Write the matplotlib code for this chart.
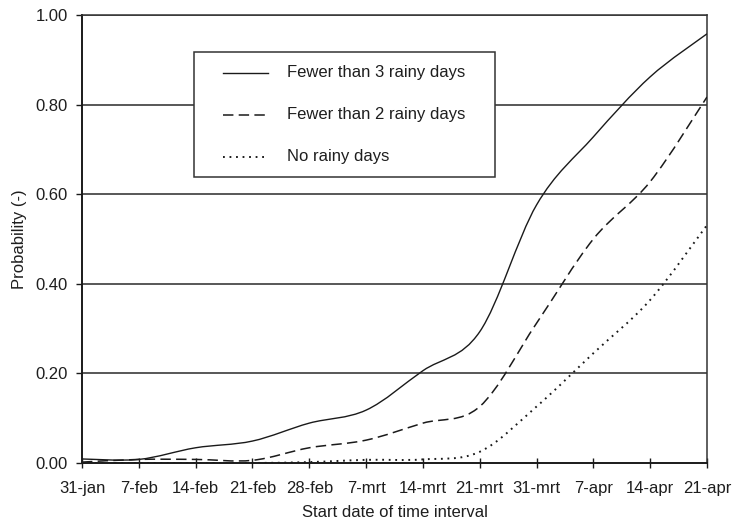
import matplotlib
matplotlib.use("Agg")
import matplotlib.pyplot as plt
from matplotlib.path import Path
from matplotlib.patches import PathPatch, Rectangle
from matplotlib.lines import Line2D
import numpy as np

plt.rcParams['font.family'] = ['Liberation Sans', 'DejaVu Sans']
plt.rcParams['lines.scale_dashes'] = False

dates = ["31-jan", "7-feb", "14-feb", "21-feb", "28-feb", "7-mrt",
         "14-mrt", "21-mrt", "31-mrt", "7-apr", "14-apr", "21-apr"]
fewer_than_3 = [0.009, 0.008, 0.034, 0.049, 0.089, 0.118,
                0.206, 0.293, 0.576, 0.728, 0.862, 0.958]
fewer_than_2 = [0.002, 0.008, 0.008, 0.006, 0.034, 0.051,
                0.089, 0.126, 0.312, 0.500, 0.628, 0.817]
no_rainy = [0.0, 0.0, 0.0, 0.0, 0.002, 0.007,
            0.008, 0.025, 0.126, 0.245, 0.364, 0.531]
series_labels = ["Fewer than 3 rainy days", "Fewer than 2 rainy days", "No rainy days"]
y_ticks = [0.0, 0.2, 0.4, 0.6, 0.8, 1.0]

INK = "#1a1a1a"
TXT = "#1e1e1e"
FS = 12


def smooth_path(xs, ys):
    """Smoothed polyline through the points, built from cubic Bezier segments."""
    pts = np.column_stack([xs, ys]).astype(float)
    n = len(pts)
    verts = [pts[0]]
    codes = [Path.MOVETO]
    for i in range(n - 1):
        p0 = pts[max(i - 1, 0)]
        p1 = pts[i]
        p2 = pts[i + 1]
        p3 = pts[min(i + 2, n - 1)]
        c1 = p1 + (p2 - p0) / 6.0
        c2 = p2 - (p3 - p1) / 6.0
        verts += [c1, c2, p2]
        codes += [Path.CURVE4] * 3
    return Path(verts, codes)


fig = plt.figure(figsize=(7.33, 5.25), dpi=100)
ax = fig.add_axes([82 / 733, 1 - 463 / 525, 625 / 733, 448 / 525])

x = np.arange(len(dates))
styles = [
    dict(linestyle="-", linewidth=1.0),
    dict(linestyle=(0, (7.5, 3.8)), linewidth=1.1),
    dict(linestyle=(0, (1.3, 3.4)), linewidth=1.4),
]
for vals, st in zip([fewer_than_3, fewer_than_2, no_rainy], styles):
    patch = PathPatch(smooth_path(x, vals), fill=False, edgecolor=INK,
                      capstyle="butt", zorder=3, **st)
    ax.add_patch(patch)

ax.set_xlim(0, len(dates) - 1)
ax.set_ylim(0, 1.0)
ax.set_xticks(x)
ax.set_xticklabels(dates)
ax.set_yticks(y_ticks)
ax.set_yticklabels([f"{v:.2f}" for v in y_ticks])

for v in y_ticks[1:]:
    ax.axhline(v, color="#2a2a2a", linewidth=1.1, zorder=1)

for side in ["left", "bottom"]:
    ax.spines[side].set_color(INK)
    ax.spines[side].set_linewidth(1.4)
for side in ["top", "right"]:
    ax.spines[side].set_color("#333333")
    ax.spines[side].set_linewidth(1.1)

ax.tick_params(axis="x", direction="inout", length=7.5, width=1.0,
               color=INK, labelsize=FS, labelcolor=TXT, pad=9)
ax.tick_params(axis="y", direction="out", length=4, width=1.0,
               color=INK, labelsize=FS, labelcolor=TXT, pad=6)

ax.set_xlabel("Start date of time interval", fontsize=FS, color=TXT, labelpad=7)
ax.set_ylabel("Probability (-)", fontsize=FS, color=TXT, labelpad=6)

# legend box
bx0, bx1 = (194 - 82) / 625, (495 - 82) / 625
by0, by1 = (463 - 177) / 448, (463 - 52) / 448
ax.add_patch(Rectangle((bx0, by0), bx1 - bx0, by1 - by0, transform=ax.transAxes,
                       facecolor="white", edgecolor="#333333", linewidth=1.1,
                       zorder=5))
hx0, hx1 = (223 - 82) / 625, (268 - 82) / 625
tx = (287 - 82) / 625
rows = [(463 - 73) / 448, (463 - 115) / 448, (463 - 157) / 448]
for lab, st, ry in zip(series_labels, styles, rows):
    ax.add_line(Line2D([hx0, hx1], [ry, ry], transform=ax.transAxes,
                       color=INK, zorder=6, **st))
    ax.text(tx, ry, lab, transform=ax.transAxes, fontsize=FS, color=TXT,
            va="center", ha="left", zorder=6)

fig.savefig("out.png", dpi=100)
